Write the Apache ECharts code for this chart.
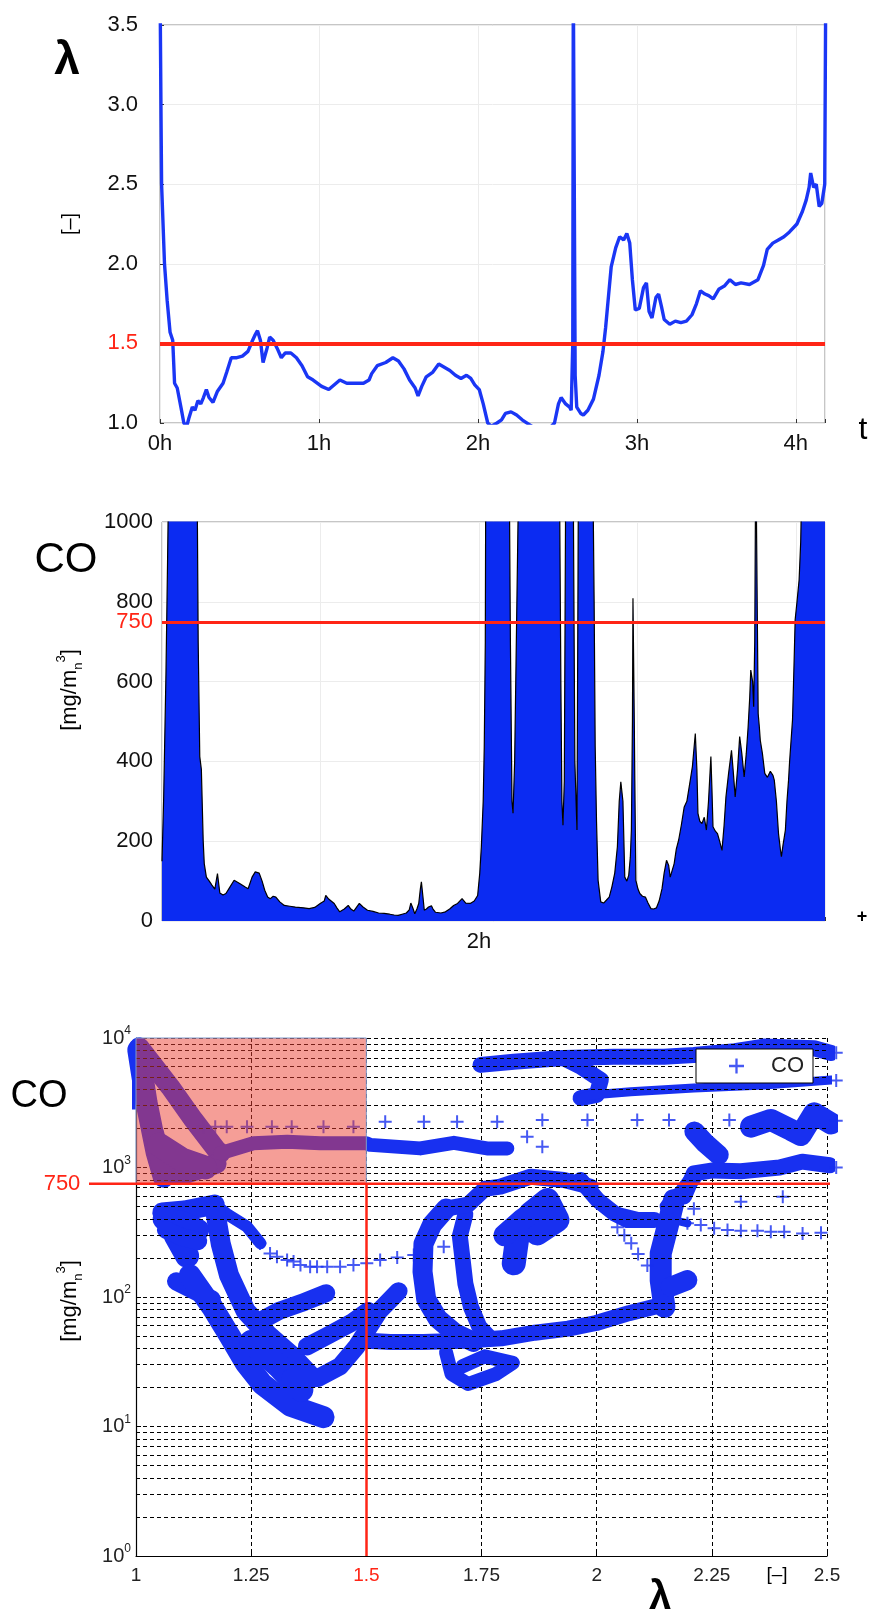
<!DOCTYPE html>
<html><head><meta charset="utf-8">
<script src="https://cdn.jsdelivr.net/npm/echarts@6/dist/echarts.min.js"></script>
<style>html,body{margin:0;padding:0;background:#fff}#c{width:873px;height:1618px}</style>
</head><body><div id="c"></div>
<script>
const FONT = "'Liberation Sans', Arial, 'Noto Sans', sans-serif";
const BLUE = '#1a36f5';
const FILL = '#0b2bf2';
const BLUE3 = '#1830f0';
const RED = '#ff2516';
const PLUS = 'path://M5.5,0H7.5V5.5H13V7.5H7.5V13H5.5V7.5H0V5.5H5.5Z';

// ---- Panel 1: lambda over time (minutes) ----
const lambdaSeries = [[0,3.8],[0.4,2.9],[0.6,2.5],[1.7,2.0],[2.7,1.77],[3.8,1.57],[4.8,1.52],[5.5,1.25],[6.5,1.22],[8.0,1.09],[9.0,1.0],[10.1,0.98],[10.9,1.03],[12.2,1.1],[13.2,1.08],[14.3,1.14],[15.4,1.12],[16.4,1.16],[17.5,1.21],[18.5,1.16],[20.0,1.13],[21.7,1.2],[23.8,1.25],[25.2,1.32],[26.9,1.41],[29.0,1.41],[31.1,1.42],[33.2,1.45],[34.7,1.51],[35.8,1.55],[36.8,1.58],[37.9,1.52],[38.9,1.38],[40.4,1.47],[41.4,1.54],[42.7,1.52],[44.2,1.47],[45.8,1.41],[47.3,1.44],[49.4,1.44],[51.5,1.41],[53.6,1.36],[55.7,1.29],[57.8,1.27],[61.0,1.23],[63.7,1.21],[65.8,1.24],[67.9,1.27],[70.5,1.25],[73.6,1.25],[76.8,1.25],[78.9,1.27],[79.9,1.31],[82.0,1.36],[85.2,1.38],[87.9,1.41],[90.0,1.39],[92.1,1.34],[94.2,1.27],[96.3,1.22],[97.4,1.17],[98.8,1.23],[100.5,1.29],[103.0,1.32],[105.2,1.37],[107.3,1.35],[109.4,1.33],[111.5,1.3],[113.6,1.28],[115.7,1.3],[117.3,1.28],[118.8,1.24],[120.5,1.21],[122.0,1.12],[123.7,1.0],[125.1,0.98],[127.2,1.0],[128.9,1.02],[130.4,1.06],[132.5,1.07],[134.6,1.05],[136.7,1.02],[139.4,0.99],[143.0,0.95],[147.2,0.97],[148.9,1.0],[150.4,1.12],[151.4,1.16],[153.1,1.12],[154.6,1.1],[155.2,1.08],[155.8,1.5],[156.0,3.8],[156.5,3.8],[156.7,1.3],[157.3,1.1],[158.8,1.06],[159.8,1.05],[161.5,1.08],[163.6,1.15],[165.7,1.3],[167.2,1.45],[168.2,1.6],[169.3,1.8],[170.3,1.98],[172.0,2.1],[173.5,2.17],[175.0,2.15],[176.2,2.19],[177.3,2.13],[178.3,1.9],[179.4,1.71],[180.9,1.72],[182.5,1.85],[183.6,1.88],[184.6,1.7],[185.7,1.66],[187.2,1.79],[188.2,1.81],[189.3,1.73],[190.3,1.65],[192.4,1.62],[194.5,1.64],[196.6,1.63],[198.7,1.64],[200.8,1.68],[202.5,1.75],[204.0,1.83],[205.7,1.81],[207.1,1.8],[208.8,1.78],[210.9,1.84],[213.0,1.86],[215.1,1.9],[217.2,1.87],[219.3,1.88],[222.5,1.87],[225.7,1.9],[227.8,1.99],[229.2,2.09],[231.3,2.13],[233.4,2.15],[235.5,2.17],[237.6,2.2],[240.4,2.25],[242.5,2.33],[243.9,2.4],[245.0,2.48],[245.6,2.57],[246.7,2.48],[247.7,2.5],[248.8,2.36],[249.8,2.38],[250.9,2.5],[251.3,3.8]];
const lambdaTicks = [1.0, 1.5, 2.0, 2.5, 3.0, 3.5];
const lambdaLimit = 1.5;

// ---- Panel 2: CO over time (minutes) ----
const coSeries = [[0,150],[0.6,300],[1.5,620],[2.1,900],[2.7,1200],[13.2,1200],[13.7,700],[14.3,412],[14.9,380],[15.6,200],[16.0,144],[16.8,110],[17.9,100],[18.9,90],[20.0,80],[21.0,119],[21.9,70],[23.1,65],[24.2,69],[25.7,85],[27.3,102],[29.4,94],[31.5,85],[32.6,81],[34.1,110],[35.3,123],[36.8,120],[37.9,100],[38.9,77],[40.0,60],[41.0,56],[42.1,62],[43.1,60],[44.6,48],[46.3,39],[48.4,37],[50.5,35],[53.6,33],[55.7,31],[57.8,34],[59.9,44],[61.4,50],[62.0,64],[63.1,55],[65.2,44],[66.2,33],[67.3,23],[69.0,30],[70.5,39],[71.5,30],[72.6,25],[74.7,44],[76.1,35],[77.8,27],[79.9,24],[82.0,20],[84.1,19],[86.2,17],[87.9,15],[89.4,14],[90.9,17],[92.5,20],[93.6,28],[94.2,45],[95.1,30],[95.7,18],[96.5,30],[97.2,44],[97.8,80],[98.2,98],[98.8,60],[99.3,27],[100.1,30],[100.9,35],[102.0,38],[102.6,30],[103.5,22],[104.1,18],[105.6,20],[107.3,23],[108.9,30],[110.4,39],[111.9,44],[113.6,56],[115.0,45],[116.7,44],[118.2,50],[119.5,64],[120.3,120],[120.9,186],[121.6,300],[122.0,437],[122.4,700],[122.6,1200],[131.4,1200],[131.9,700],[132.5,300],[132.9,270],[133.5,400],[134.6,915],[135.2,1200],[150.4,1200],[151.0,600],[151.4,300],[151.8,240],[152.3,350],[152.9,1200],[155.6,1200],[156.3,400],[157.1,228],[157.7,1200],[163.0,1200],[163.6,800],[164.0,437],[164.5,250],[165.1,102],[166.1,48],[167.2,45],[168.2,52],[169.3,60],[170.3,85],[171.4,120],[172.4,186],[173.1,300],[173.7,349],[174.5,300],[175.2,110],[176.0,100],[176.7,115],[177.3,160],[177.7,228],[178.1,500],[178.3,809],[178.8,500],[179.0,353],[179.4,102],[180.2,80],[180.9,69],[181.9,62],[183.0,60],[184.0,45],[185.1,31],[186.1,30],[187.2,33],[188.2,50],[189.3,81],[190.1,120],[191.0,152],[191.8,140],[192.4,110],[193.1,115],[193.9,144],[194.7,180],[195.6,203],[196.6,240],[197.7,286],[198.7,300],[199.8,345],[200.8,387],[201.9,470],[202.5,380],[202.9,270],[203.6,250],[204.4,244],[205.3,260],[206.1,228],[206.9,300],[207.8,412],[208.2,330],[208.6,236],[209.5,225],[210.3,219],[211.1,200],[212.0,177],[212.8,240],[213.5,311],[214.5,370],[215.6,428],[216.2,380],[217.0,311],[217.9,380],[218.7,462],[219.5,420],[220.4,361],[221.2,420],[221.9,487],[222.5,560],[222.9,629],[223.6,600],[224.0,537],[224.4,700],[224.8,1200],[225.2,1200],[225.7,520],[226.1,490],[226.5,453],[227.3,420],[228.2,370],[229.2,360],[230.3,375],[231.3,365],[231.8,353],[232.6,300],[233.4,219],[234.1,180],[234.5,161],[235.1,190],[236.0,228],[236.6,300],[237.2,353],[237.6,400],[238.7,504],[239.3,650],[239.7,755],[240.4,800],[241.2,855],[241.8,950],[242.5,1200],[251,1200]];
const coTicks = [0, 200, 400, 600, 800, 1000];
const coLimit = 750;

// ---- Panel 3: CO vs lambda (bands of dense markers and single markers) ----
const coStripLeft = [[0.992,8500],[0.992,2800]];
const coTriLeft = [[1.005,8080],[1.023,3150],[1.045,1300],[1.06,850]];
const coTriRight = [[1.007,8500],[1.074,4200],[1.125,2330],[1.175,1365],[1.183,1290]];
const coTriBase = [[1.04,1800],[1.06,880],[1.11,900],[1.175,1070]];
const coTriFill = [[1.05,1500],[1.1,1150],[1.15,1000]];
const coBand1500 = [[1.183,1290],[1.255,1540],[1.328,1580],[1.4,1540],[1.5,1540],[1.509,1495],[1.617,1405],[1.69,1550],[1.762,1405],[1.806,1405]];
const coBand7000 = [[1.748,6200],[1.82,6560],[1.928,7000],[2.037,7170],[2.146,7170],[2.211,7390],[2.3,7900],[2.363,8580],[2.472,8330],[2.509,7650]];
const coLoop7000 = [[1.928,7000],[1.965,6020],[2.009,4740],[2.0,3630],[1.965,3440]];
const coBand4000 = [[1.965,3440],[1.987,3630],[2.074,3850],[2.211,4110],[2.363,4340],[2.509,4740]];
const coBlob1500 = [[2.212,1900],[2.235,1550],[2.265,1250]];
const coBlob2200 = [[2.335,2065],[2.378,2330],[2.422,1950],[2.443,1780],[2.472,2620],[2.509,2190]];
const coBand1000 = [[2.19,600],[2.211,900],[2.252,950],[2.313,935],[2.397,1000],[2.446,1110],[2.506,1040]];
const coBand400 = [[2.037,470],[2.096,417],[2.154,405],[2.197,371]];
const coChainDense = [[1.171,517],[1.2,430],[1.241,349],[1.27,260]];
const coLL1 = [[1.057,449],[1.105,465],[1.171,517]];
const coLL2 = [[1.069,434],[1.087,295],[1.111,208]];
const coLL3 = [[1.087,132],[1.129,111],[1.165,96]];
const coLL4 = [[1.117,147],[1.165,84],[1.202,51],[1.238,31],[1.274,21.3],[1.335,14.5],[1.407,11.8]];
const coLL5 = [[1.171,482],[1.184,257],[1.202,147],[1.238,78],[1.286,51],[1.335,36],[1.383,23.7]];
const coLL6 = [[1.25,45],[1.31,29.2],[1.359,19.2]];
const coLL7 = [[1.262,63],[1.31,78],[1.359,89.7],[1.413,107]];
const coLL8 = [[1.335,23.7],[1.395,23.7],[1.443,29.2],[1.479,41.5],[1.528,78],[1.57,111]];
const coLL9 = [[1.371,41.5],[1.419,51],[1.467,63],[1.504,78]];
const coLL10 = [[1.06,400],[1.1,380],[1.135,330]];
const coLL11 = [[1.065,330],[1.1,290],[1.135,270]];
const coBand45 = [[1.504,46],[1.552,45],[1.624,45],[1.709,46],[1.793,48],[1.866,53],[1.938,57],[1.999,63],[2.07,75],[2.13,85]];
const coLoopOuter = [[1.673,482],[1.643,364],[1.624,257],[1.622,157],[1.63,96],[1.655,68],[1.691,53],[1.733,45]];
const coLoopInner = [[1.715,434],[1.703,295],[1.709,194],[1.715,127],[1.727,84],[1.745,59],[1.769,48]];
const coLoopTop = [[1.673,482],[1.721,517],[1.757,684]];
const coArc750 = [[1.757,684],[1.791,711],[1.857,849],[1.929,801],[1.987,711]];
const coArc500 = [[1.965,801],[2.002,561],[2.038,443],[2.067,393],[2.125,393]];
const coBandVert = [[2.168,561],[2.154,349],[2.139,217],[2.139,135],[2.147,84]];
const coBlob130 = [[2.161,120],[2.197,135]];
const coRise = [[2.154,499],[2.183,631],[2.212,851]];
const coBlobInner = [[1.82,182],[1.828,292],[1.857,443],[1.893,561],[1.915,393],[1.871,310]];
const coBlobInner2 = [[1.8,300],[1.84,400],[1.88,500]];
const coLoopSmall = [[1.673,37.4],[1.685,25.4],[1.721,21.3],[1.781,25.4],[1.818,31],[1.757,34.8],[1.709,29.2]];

const coCrossRow = [[1.146,2065],[1.172,2065],[1.197,2065],[1.241,2065],[1.295,2065],[1.338,2065],[1.407,2065],[1.472,2065],[1.541,2260],[1.625,2260],[1.697,2260],[1.784,2260],[1.882,2330],[1.98,2330],[2.088,2330],[2.157,2330],[2.288,2330],[1.849,1730],[1.882,1445]];
const coCrossChain = [[1.269,259],[1.291,217],[1.306,205],[1.328,193],[1.342,188],[1.357,177],[1.378,171],[1.393,171],[1.415,171],[1.443,171],[1.472,177],[1.501,182],[1.53,193],[1.567,202],[1.603,211],[1.668,244]];
const coCrossRight = [[2.211,481],[2.313,545],[2.404,595],[2.52,7700],[2.52,4700],[2.52,2300],[2.52,1000]];
const coCross300 = [[2.197,371],[2.226,360],[2.255,339],[2.284,329],[2.313,325],[2.349,325],[2.378,319],[2.407,319],[2.447,309],[2.487,313]];
const coCrossStairs = [[2.045,345],[2.06,300],[2.075,260],[2.09,215],[2.11,175]];

const lambdaAxisTicks = [1, 1.25, 1.5, 1.75, 2, 2.25, 2.5];
const coMinorTicks = [2,3,4,5,6,7,8,9,20,30,40,50,60,70,80,90,200,300,400,500,600,700,800,900,2000,3000,4000,5000,6000,7000,8000,9000];

// bands: [data, line width]
const bands = [
  [coTriLeft,22],[coTriRight,20],[coTriBase,20],[coTriFill,24],[coBand1500,14],
  [coBand7000,16],[coLoop7000,16],[coBand4000,9],[coBlob1500,20],[coBlob2200,22],
  [coBand1000,16],[coBand400,8],[coChainDense,12],
  [coLL1,20],[coLL2,24],[coLL3,18],[coLL4,22],[coLL5,20],[coLL6,24],[coLL7,18],[coLL8,18],[coLL9,18],
  [coLL10,22],[coLL11,18],
  [coBand45,16],[coLoopOuter,20],[coLoopInner,16],[coLoopTop,16],[coArc750,16],[coArc500,16],
  [coBandVert,22],[coBlob130,20],[coRise,16],[coBlobInner,24],[coBlobInner2,22],[coLoopSmall,14]
];

const chart = echarts.init(document.getElementById('c'), null, {renderer:'canvas'});
const tl = {color:'#111', fontFamily:FONT};

const bandSeries = bands.map((b, i) => ({
  type:'line', name:'band'+i, xAxisIndex:2, yAxisIndex:2, data:b[0], showSymbol:false, z:2,
  lineStyle:{color:BLUE3, width:b[1], cap:'round', join:'round'}, silent:true, animation:false
}));
bandSeries.push({
  type:'line', name:'strip', xAxisIndex:2, yAxisIndex:2, data:coStripLeft, showSymbol:false, z:2, clip:false,
  lineStyle:{color:BLUE3, width:7, cap:'butt'}, silent:true
});

const crossData = [].concat(coCrossRow, coCrossChain, coCrossRight, coCross300, coCrossStairs);

const option = {
  animation:false,
  textStyle:{fontFamily:FONT},
  grid:[
    {left:160, top:25, width:665, height:398, show:true, borderColor:'#8c8c8c', borderWidth:1, backgroundColor:'transparent'},
    {left:162, top:522, width:663, height:399, show:true, borderColor:'#8c8c8c', borderWidth:1, backgroundColor:'transparent'},
    {left:136, top:1038, width:691, height:518}
  ],
  legend:{
    data:[{name:'CO', icon:PLUS}], left:696, top:1049, orient:'horizontal',
    itemWidth:15, itemHeight:15, borderColor:'#000', borderWidth:1, backgroundColor:'#fff',
    padding:[6,9,6,33], textStyle:{fontSize:22, color:'#222', fontFamily:FONT, padding:[0,0,0,22]},
    selectedMode:false, z:20
  },
  xAxis:[
    {gridIndex:0, type:'value', min:0, max:251, interval:60,
     axisLine:{show:false}, axisTick:{inside:true, length:4, lineStyle:{color:'#333'}},
     splitLine:{lineStyle:{color:'#ececec'}},
     axisLabel:Object.assign({fontSize:22, margin:10, showMinLabel:true,
       formatter:v => (v % 60 === 0 ? (v/60) + 'h' : '')}, tl)},
    {gridIndex:1, type:'value', min:0, max:251, interval:60,
     axisLine:{show:false}, axisTick:{inside:true, length:4, lineStyle:{color:'#333'}},
     splitLine:{lineStyle:{color:'#ececec'}},
     axisLabel:Object.assign({fontSize:22, margin:10, formatter:v => (v === 120 ? '2h' : '')}, tl)},
    {gridIndex:2, type:'value', min:1, max:2.5, interval:0.25,
     axisLine:{show:true, lineStyle:{color:'#000', width:1.2}},
     axisTick:{inside:true, length:5, lineStyle:{color:'#000'}},
     splitLine:{show:true, lineStyle:{color:'#000', type:[4,3], width:1}},
     axisLabel:Object.assign({fontSize:19, margin:10, showMinLabel:true, showMaxLabel:true,
       formatter:v => (lambdaAxisTicks.indexOf(v) < 0 ? '' : (v === 1.5 ? '{r|1.5}' : String(v))),
       rich:{r:{color:RED, fontSize:19, fontFamily:FONT}}}, {color:'#222', fontFamily:FONT})}
  ],
  yAxis:[
    {gridIndex:0, type:'value', min:1, max:3.5, interval:0.5,
     axisLine:{show:false}, axisTick:{inside:true, length:4, lineStyle:{color:'#333'}},
     splitLine:{lineStyle:{color:'#ececec'}},
     axisLabel:Object.assign({fontSize:22, margin:22,
       formatter:v => (lambdaTicks.indexOf(v) < 0 ? '' : (v === lambdaLimit ? '{r|1.5}' : v.toFixed(1))),
       rich:{r:{color:RED, fontSize:22, fontFamily:FONT}}}, tl)},
    {gridIndex:1, type:'value', min:0, max:1000, interval:50,
     axisLine:{show:false}, axisTick:{show:false}, splitLine:{show:false},
     axisLabel:Object.assign({fontSize:22, margin:9,
       formatter:v => (v === coLimit ? '{r|750}' : (coTicks.indexOf(v) >= 0 ? String(v) : '')),
       rich:{r:{color:RED, fontSize:22, fontFamily:FONT}}}, tl)},
    {gridIndex:2, type:'log', logBase:10, min:1, max:10000,
     axisLine:{show:true, lineStyle:{color:'#000', width:1.2}},
     axisTick:{inside:true, length:5, lineStyle:{color:'#000'}},
     splitLine:{show:true, lineStyle:{color:'#000', type:[4,3], width:1}},
     axisLabel:{margin:5, color:'#222', fontFamily:FONT,
       formatter:v => '{b|10}{s|' + Math.round(Math.log10(v)) + '}',
       rich:{b:{fontSize:20, lineHeight:26, fontFamily:FONT, color:'#222'},
             s:{fontSize:12, lineHeight:12, verticalAlign:'top', fontFamily:FONT, color:'#222'}}}},
    {gridIndex:1, type:'value', min:0, max:1000, interval:200,
     axisLine:{show:false}, axisTick:{show:false}, axisLabel:{show:false},
     splitLine:{show:true, lineStyle:{color:'#ececec'}}}
  ],
  series:[
    {type:'line', name:'lambda', xAxisIndex:0, yAxisIndex:0, data:lambdaSeries, showSymbol:false, clip:true, z:3,
     lineStyle:{color:BLUE, width:3.4}, silent:true,
     markLine:{silent:true, symbol:['none','none'], label:{show:false}, lineStyle:{color:RED, width:4, type:'solid'},
       data:[{yAxis:lambdaLimit}]}},
    {type:'line', name:'coTime', xAxisIndex:1, yAxisIndex:1, data:coSeries, showSymbol:false, clip:true, z:3,
     lineStyle:{color:'#000', width:1.2}, areaStyle:{color:FILL, opacity:1}, silent:true,
     markLine:{silent:true, symbol:['none','none'], label:{show:false}, lineStyle:{color:RED, width:3, type:'solid'},
       data:[{yAxis:coLimit}]}},
    {type:'line', name:'minorGrid', xAxisIndex:2, yAxisIndex:2, data:[[1,1]], showSymbol:false, z:1,
     lineStyle:{width:0, opacity:0}, silent:true,
     markLine:{silent:true, symbol:['none','none'], label:{show:false}, animation:false,
       lineStyle:{color:'#000', type:[4,3], width:1}, data:coMinorTicks.map(v => ({yAxis:v}))}},
    ...bandSeries,
    {type:'scatter', name:'CO', xAxisIndex:2, yAxisIndex:2, data:crossData, symbol:PLUS, symbolSize:13, z:3,
     clip:false, itemStyle:{color:BLUE3}, silent:true},
    {type:'line', name:'zone', xAxisIndex:2, yAxisIndex:2, data:[[1,750]], showSymbol:false, z:10,
     lineStyle:{width:0, opacity:0}, silent:true,
     markLine:{silent:true, symbol:['none','none'], label:{show:false}, lineStyle:{color:RED, width:2.5, type:'solid'},
       data:[[{coord:[1.5,1]},{coord:[1.5,coLimit]}]]}}
  ]
};
chart.setOption(option);

function txt(id, x, y, text, size, extra) {
  return Object.assign({type:'text', id:id, x:x, y:y, z:30,
    style:Object.assign({text:text, fontSize:size, fontFamily:FONT, fill:'#000', textAlign:'center', textVerticalAlign:'middle'}, (extra && extra.style) || {})},
    extra && extra.rotation ? {rotation:extra.rotation} : {});
}
const unitRich = {
  a:{fontSize:22, lineHeight:30, fontFamily:FONT, color:'#111'},
  n:{fontSize:13, lineHeight:12, verticalAlign:'bottom', fontFamily:FONT, color:'#111'},
  s:{fontSize:13, lineHeight:12, verticalAlign:'top', fontFamily:FONT, color:'#111'}
};
const conv = v => chart.convertToPixel({xAxisIndex:2, yAxisIndex:2}, v);
const zoneTL = conv([1, 10000]);
const zoneBR = conv([lambdaLimit, coLimit]);
const redY = zoneBR[1];
chart.setOption({graphic:[
  {type:'rect', id:'zone', z:15, shape:{x:zoneTL[0], y:zoneTL[1], width:zoneBR[0]-zoneTL[0], height:zoneBR[1]-zoneTL[1]},
   style:{fill:'rgba(236,62,48,0.5)', stroke:'#7d9bcc', lineWidth:1}},
  txt('l1', 67, 61, 'λ', 46, {style:{fontWeight:'bold'}}),
  txt('u1', 70, 224, '[–]', 20, {rotation:Math.PI/2}),
  txt('t1', 863, 430, 't', 32),
  txt('c2', 66, 560, 'CO', 42),
  txt('u2', 70, 690, '{a|[mg/m}{n|n}{s|3}{a|]}', 22, {rotation:Math.PI/2, style:{rich:unitRich}}),
  txt('p2', 862, 917, '+', 18, {style:{fontWeight:'bold'}}),
  txt('c3', 39, 1097, 'CO', 38),
  txt('u3', 70, 1301, '{a|[mg/m}{n|n}{s|3}{a|]}', 22, {rotation:Math.PI/2, style:{rich:unitRich}}),
  txt('l3', 660, 1598, 'λ', 40, {style:{fontWeight:'bold'}}),
  txt('d3', 777, 1575, '[–]', 19),
  {type:'line', id:'r750', z:25, shape:{x1:89, y1:redY, x2:830, y2:redY}, style:{stroke:RED, lineWidth:2.5}},
  txt('v750', 62, redY, '750', 22, {style:{fill:RED}})
]});
</script></body></html>
